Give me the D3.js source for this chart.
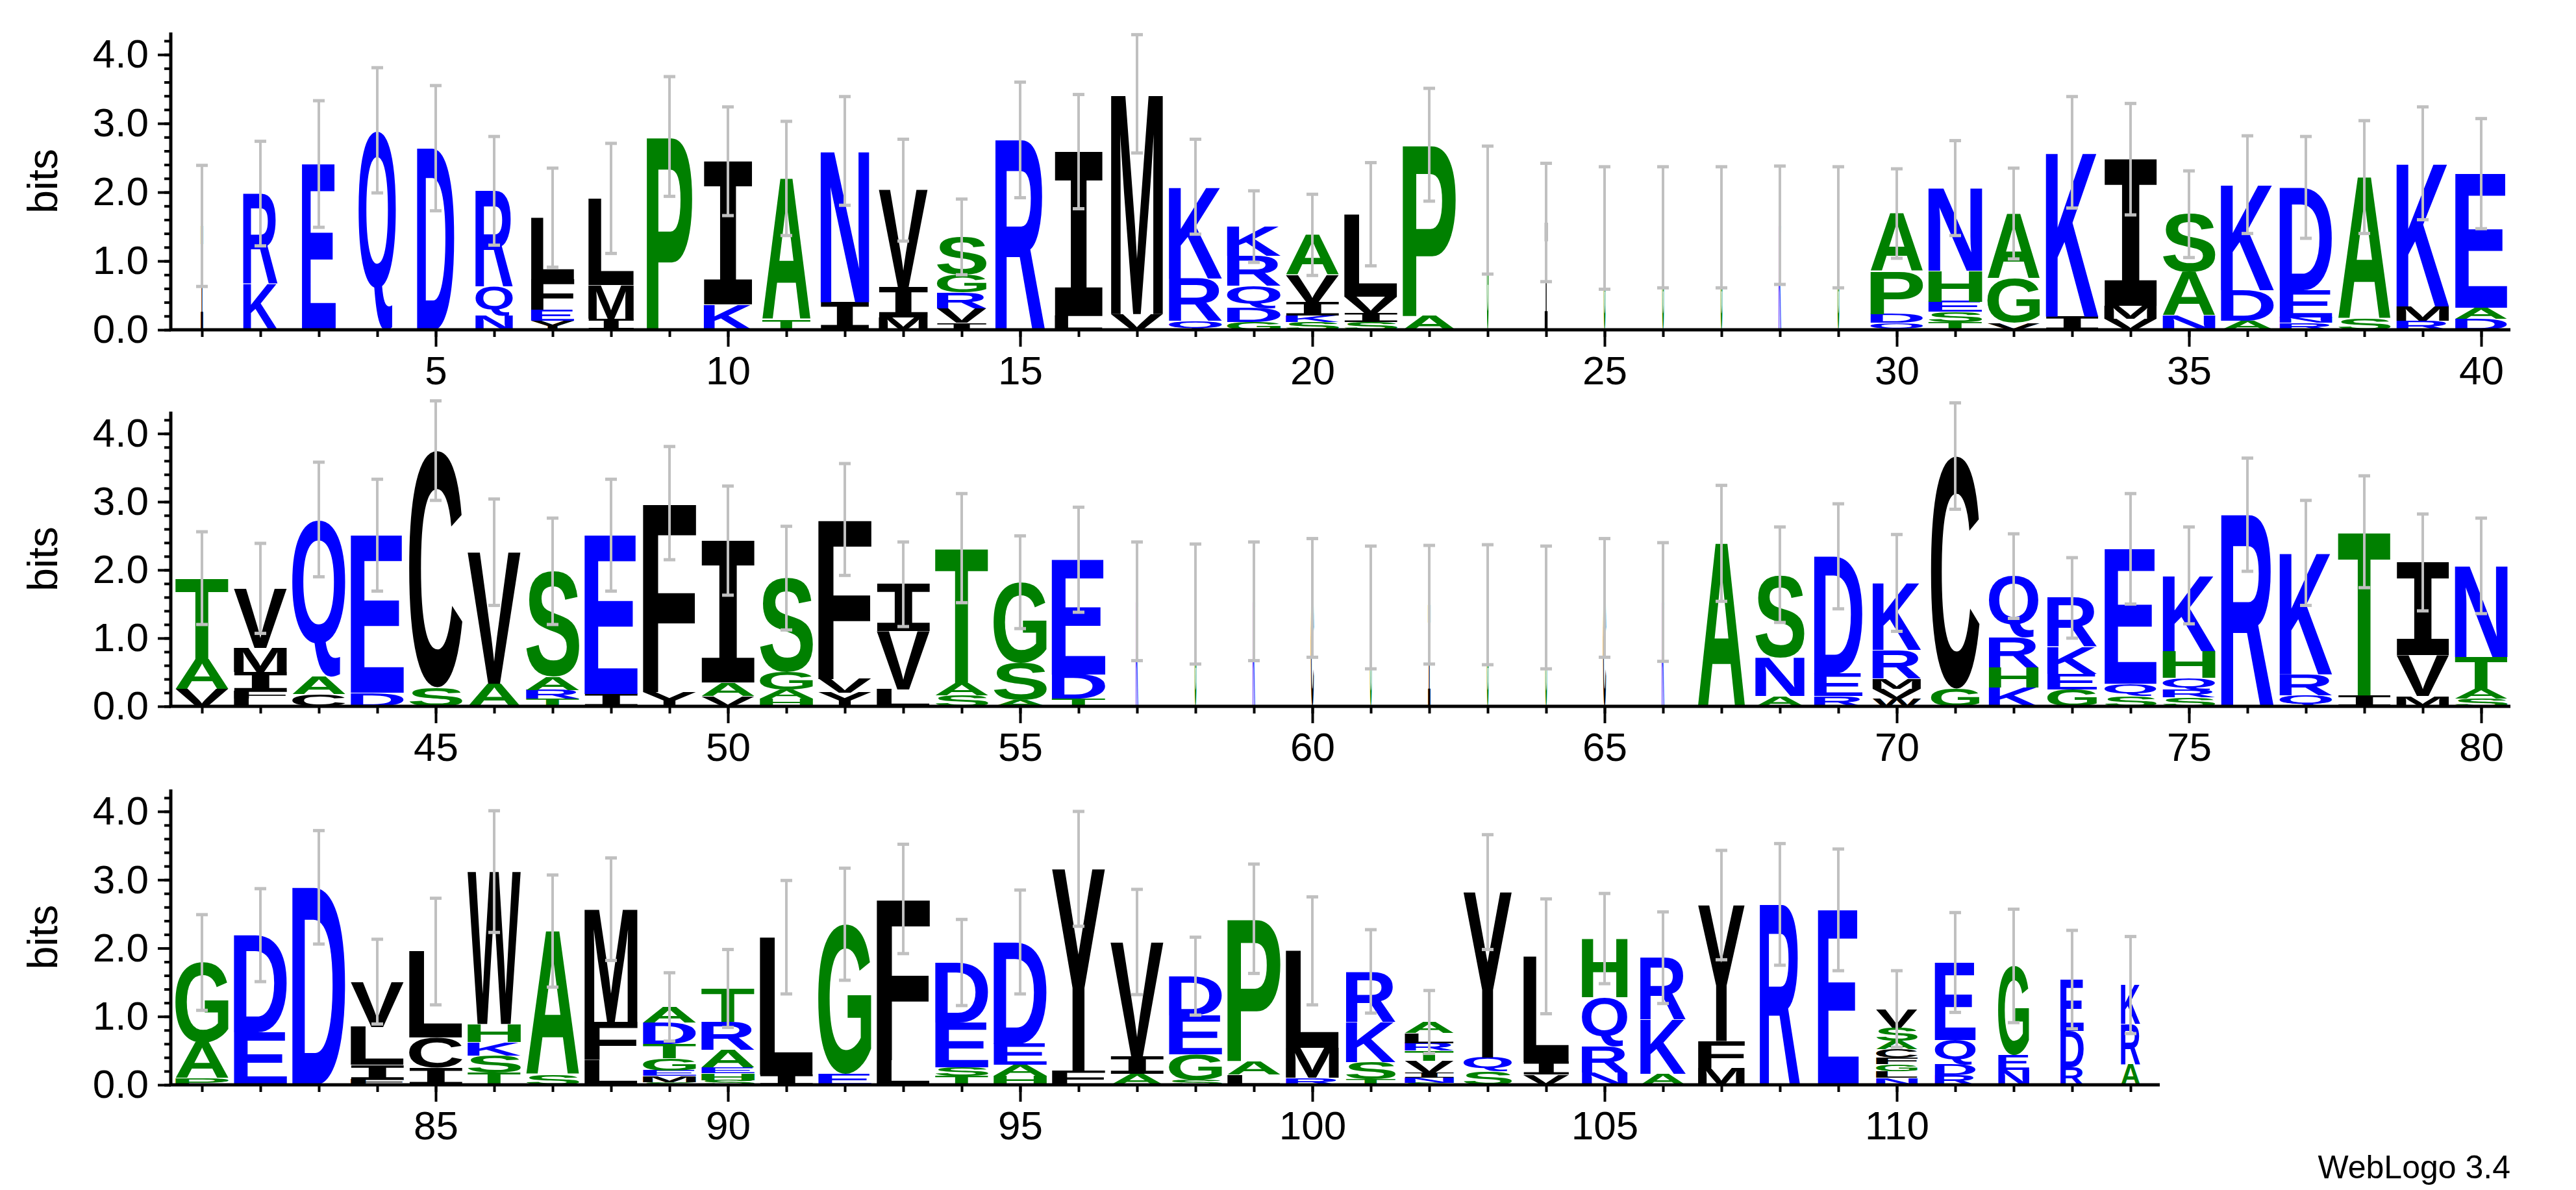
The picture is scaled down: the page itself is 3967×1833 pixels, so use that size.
<!DOCTYPE html>
<html>
<head>
<meta charset="utf-8">
<script src="https://cdn.jsdelivr.net/npm/d3@7"></script>
<style>
  body { margin:0; background:#fff; }
  text { font-family: "Liberation Sans", Arial, sans-serif; }
</style>
</head>
<body>
<svg id="logo" width="3967" height="1833"></svg>
<script>
// letters of each stack, bottom to top (position = index + 1)
const letters = [
  "I","KR","E","Q","D","NQR","YEFL","IML","P","KI","TA","IN","MIV","IVRGS","R","LI","VM","QRK","GDQRK","SKIVA",
  "SIVL","AP","G","I","G","G","G","K","G","QDPA","TSEHN","VGA","IK","VMI","NAS","ADK","RNED","SA","RMK","DAE",
  "VAT","LFIMV","CAQ","DE","SC","AV","TRAS","IE","YF","VAI","HAGS","YVF","LVI","SAT","ASG","TDE","K","G","K","C",
  "G","I","G","G","C","K","A","ANS","RED","WVMRK","GC","KHRQ","GEKR","SQE","SRQHK","R","QRK","IT","MVI","SATN",
  "PAG","ED","D","FILV","ICL","TSKHW","SA","LFM","SMEGTDA","SHEART","IL","EG","LF","TSED","HAED","FY","AIV","SGED","LAP","RML",
  "TSKR","SNIVTRLA","SQY","VIL","NRQH","AKR","MFY","R","E","NLGFCASV","RDQE","NEG","RDE","ARK"
];
// bits of each letter, same order
const bits = [
  [1.51],[0.67,1.31],[2.41],[2.9],[2.64],[0.2,0.42,1.4],[0.13,0.16,0.45,0.89],[0.16,0.49,1.26],[2.81],[0.37,2.08],
  [0.15,2.05],[0.4,2.2],[0.18,0.44,1.41],[0.1,0.21,0.23,0.26,0.55],[2.76],[0.2,2.39],[0.23,3.2],[0.13,0.62,1.33],[0.11,0.21,0.32,0.44,0.42],[0.11,0.1,0.19,0.4,0.58],
  [0.11,0.13,0.24,1.2],[0.2,2.49],[1.74],[1.56],[1.48],[1.49],[1.49],[1.52],[1.49],[0.1,0.13,0.62,0.84],
  [0.11,0.15,0.15,0.45,1.2],[0.1,0.65,0.94],[0.19,2.39],[0.16,0.19,2.13],[0.21,0.63,0.84],[0.13,0.45,1.53],[0.1,0.08,0.4,1.49],[0.16,2.06],[0.13,0.21,2.08],[0.16,0.16,1.95],
  [0.25,0.44,1.19],[0.11,0.11,0.28,0.36,0.87],[0.18,0.26,2.3],[0.2,2.31],[0.28,3.47],[0.33,1.93],[0.11,0.13,0.2,1.54],[0.18,2.33],[0.21,2.77],[0.15,0.2,2.08],
  [0.11,0.13,0.26,1.38],[0.2,0.2,2.34],[0.25,0.85,0.69],[0.16,0.18,1.98],[0.1,0.54,1.18],[0.11,0.36,1.68],[1.54],[1.5],[1.54],[1.59],
  [1.45],[1.49],[1.49],[1.45],[1.59],[1.53],[2.39],[0.15,0.57,1.21],[0.15,0.33,1.72],[0.11,0.15,0.15,0.42,0.98],
  [0.26,3.41],[0.28,0.29,0.44,0.9],[0.25,0.23,0.39,0.72],[0.15,0.18,1.98],[0.13,0.11,0.18,0.39,1.11],[2.81],[0.16,0.31,1.78],[0.16,2.4],[0.15,0.6,1.36],[0.11,0.15,0.46,1.34],
  [0.1,0.52,1.17],[0.77,1.42],[2.89],[0.08,0.21,0.56,0.66],[0.25,0.44,1.26],[0.18,0.25,0.2,0.26,2.23],[0.15,2.1],[0.36,0.56,1.65],[0.04,0.09,0.08,0.18,0.21,0.31,0.23],[0.07,0.1,0.08,0.26,0.41,0.49],
  [0.15,2.01],[0.16,2.19],[0.36,2.36],[0.13,0.13,0.65,0.88],[0.13,0.16,0.31,1.49],[0.21,2.95],[0.16,0.26,1.67],[0.07,0.38,0.57,0.57],[0.15,0.2,2.08],[0.1,0.44,1.42],
  [0.08,0.25,0.59,0.74],[0.03,0.07,0.07,0.18,0.15,0.11,0.15,0.16],[0.2,0.2,2.42],[0.15,0.18,1.55],[0.18,0.38,0.72,0.86],[0.16,0.79,0.91],[0.25,0.39,1.99],[2.64],[2.56],[0.1,0.1,0.1,0.1,0.12,0.12,0.2,0.27],
  [0.14,0.16,0.36,1.13],[0.22,0.22,1.3],[0.26,0.53,0.75],[0.3,0.59,0.57]
];
// stack width (fraction of non-gap symbols)
const widths = [
  0.04,0.59,0.58,0.64,0.64,0.64,0.74,0.78,0.78,0.83,0.83,0.83,0.84,0.85,0.85,0.82,0.89,0.91,0.92,0.91,
  0.91,0.91,0.03,0.05,0.03,0.03,0.03,0.04,0.03,0.9,0.92,0.9,0.9,0.9,0.9,0.91,0.9,0.9,0.9,0.89,
  0.91,0.91,0.91,0.91,0.91,0.91,0.91,0.91,0.91,0.91,0.91,0.91,0.91,0.91,0.91,0.92,0.04,0.03,0.04,0.05,
  0.03,0.04,0.03,0.03,0.05,0.04,0.81,0.84,0.83,0.83,0.83,0.85,0.85,0.89,0.9,0.9,0.9,0.9,0.9,0.9,
  0.91,0.91,0.91,0.91,0.91,0.91,0.91,0.91,0.91,0.91,0.91,0.91,0.91,0.91,0.91,0.91,0.91,0.91,0.91,0.91,
  0.85,0.84,0.83,0.78,0.78,0.78,0.8,0.69,0.7,0.71,0.7,0.53,0.4,0.33
];
// error bar half length (bits)
const errs = [
  0.88,0.76,0.92,0.91,0.91,0.79,0.72,0.80,0.87,0.79,0.83,0.79,0.74,0.55,0.84,0.83,0.86,0.69,0.52,0.59,
  0.75,0.82,0.93,0.86,0.89,0.88,0.88,0.86,0.88,0.65,0.69,0.66,0.81,0.81,0.63,0.71,0.74,0.82,0.82,0.80,
  0.68,0.66,0.84,0.82,0.73,0.78,0.78,0.82,0.83,0.80,0.76,0.82,0.62,0.80,0.68,0.77,0.87,0.88,0.87,0.87,
  0.90,0.87,0.88,0.90,0.87,0.87,0.85,0.70,0.77,0.71,0.78,0.62,0.59,0.81,0.71,0.83,0.77,0.82,0.71,0.70,
  0.70,0.68,0.83,0.62,0.78,0.89,0.82,0.75,0.50,0.57,0.83,0.82,0.80,0.63,0.76,0.84,0.77,0.57,0.80,0.79,
  0.61,0.46,0.84,0.84,0.66,0.67,0.80,0.89,0.89,0.56,0.73,0.83,0.72,0.71
];
const rowStarts = [1, 41, 81];
const rowEnds = [40, 80, 114];
const yTicks = [0, 1, 2, 3, 4];

const blueSet = "RKDEQN", greenSet = "AGSTPH";
function color(c){ return blueSet.includes(c) ? "#0000ff" : greenSet.includes(c) ? "#008000" : "#000000"; }

const svg = d3.select("#logo");
// the serif "I" of WebLogo comes from a mono font
function fontFor(c){ return c == "I" ? "bold 200px 'DejaVu Sans Mono'" : "bold 200px 'Liberation Sans'"; }
const ctx = document.createElement("canvas").getContext("2d");
const metrics = {};
function glyph(c){
  if(!metrics[c]){
    ctx.font = fontFor(c);
    const m = ctx.measureText(c);
    metrics[c] = {l:m.actualBoundingBoxLeft, r:m.actualBoundingBoxRight, a:m.actualBoundingBoxAscent, d:m.actualBoundingBoxDescent};
  }
  return metrics[c];
}

const colStep = 90, firstX = 311;
const rowTop = [50, 634, 1216], rowBase = [508, 1088, 1671];
const maxBits = Math.log2(20);

rowStarts.forEach((start, r) => {
  const x = d3.scaleLinear().domain([start - 0.5, start + 39.5]).range([firstX - colStep/2, firstX + 39.5*colStep]);
  const y = d3.scaleLinear().domain([0, maxBits]).range([rowBase[r], rowTop[r]]);
  const g = svg.append("g");

  // stacks
  for(let p = start; p <= rowEnds[r]; p++){
    const i = p - 1, w = widths[i] * colStep, cx = x(p);
    let acc = 0;
    letters[i].split("").forEach((c, k) => {
      const h = bits[i][k], m = glyph(c);
      const top = y(acc + h), hpx = y(acc) - top;
      acc += h;
      g.append("text").text(c)
        .attr("style", "font:" + fontFor(c))
        .attr("fill", color(c))
        .attr("transform", `translate(${cx - w/2},${top}) scale(${w/(m.l+m.r)},${hpx/(m.a+m.d)}) translate(${m.l},${m.a})`);
    });
  }
  // error bars
  for(let p = start; p <= rowEnds[r]; p++){
    const i = p - 1, cx = x(p), tot = d3.sum(bits[i]);
    const y1 = y(tot + errs[i]), y2 = y(Math.max(0, tot - errs[i]));
    const eb = g.append("g").attr("stroke", "#c0c0c0");
    eb.append("line").attr("x1", cx).attr("x2", cx).attr("y1", y1).attr("y2", y2).attr("stroke-width", 4);
    [y1, y2].forEach(yy => eb.append("line").attr("x1", cx - 9).attr("x2", cx + 9).attr("y1", yy).attr("y2", yy).attr("stroke-width", 5));
  }

  // x axis
  const positions = d3.range(start, rowEnds[r] + 1);
  const xMinor = d3.axisBottom(x).tickValues(positions).tickSize(11).tickSizeOuter(0).tickFormat("");
  const xMajor = d3.axisBottom(x).tickValues(positions.filter(p => p % 5 == 0)).tickSize(26).tickSizeOuter(0).tickPadding(14);
  const xEnd = r == 2 ? x(rowEnds[r] + 0.5) : x.range()[1];
  const ga = g.append("g").attr("transform", `translate(0,${rowBase[r]})`).call(xMinor);
  const gb = g.append("g").attr("transform", `translate(0,${rowBase[r]})`).call(xMajor);
  ga.select(".domain").remove(); gb.select(".domain").remove();
  g.append("line").attr("x1", 261).attr("x2", xEnd).attr("y1", rowBase[r]).attr("y2", rowBase[r]).attr("stroke", "#000").attr("stroke-width", 5);
  [ga, gb].forEach(a => a.selectAll(".tick line").attr("stroke-width", 4));
  gb.selectAll("text").attr("font-size", 62).attr("fill", "#000");

  // y axis
  const yMinor = d3.axisLeft(y).tickValues(d3.range(0, 4.3, 0.2)).tickSize(10).tickSizeOuter(0).tickFormat("");
  const yMajor = d3.axisLeft(y).tickValues(yTicks).tickSize(20).tickSizeOuter(0).tickPadding(14).tickFormat(d3.format(".1f"));
  const ya = g.append("g").attr("transform", `translate(263,0)`).call(yMinor);
  const yb = g.append("g").attr("transform", `translate(263,0)`).call(yMajor);
  ya.select(".domain").remove(); yb.select(".domain").remove();
  g.append("line").attr("x1", 263).attr("x2", 263).attr("y1", rowTop[r]).attr("y2", rowBase[r] + 2).attr("stroke", "#000").attr("stroke-width", 5);
  [ya, yb].forEach(a => a.selectAll(".tick line").attr("stroke-width", 4));
  yb.selectAll("text").attr("font-size", 62).attr("fill", "#000");

  g.append("text").text("bits").attr("font-size", 64).attr("text-anchor", "middle")
    .attr("transform", `translate(88,${(rowTop[r] + rowBase[r]) / 2}) rotate(-90)`);
});

svg.append("text").text("WebLogo 3.4").attr("x", 3866).attr("y", 1815).attr("text-anchor", "end").attr("font-size", 50);
</script>
</body>
</html>
